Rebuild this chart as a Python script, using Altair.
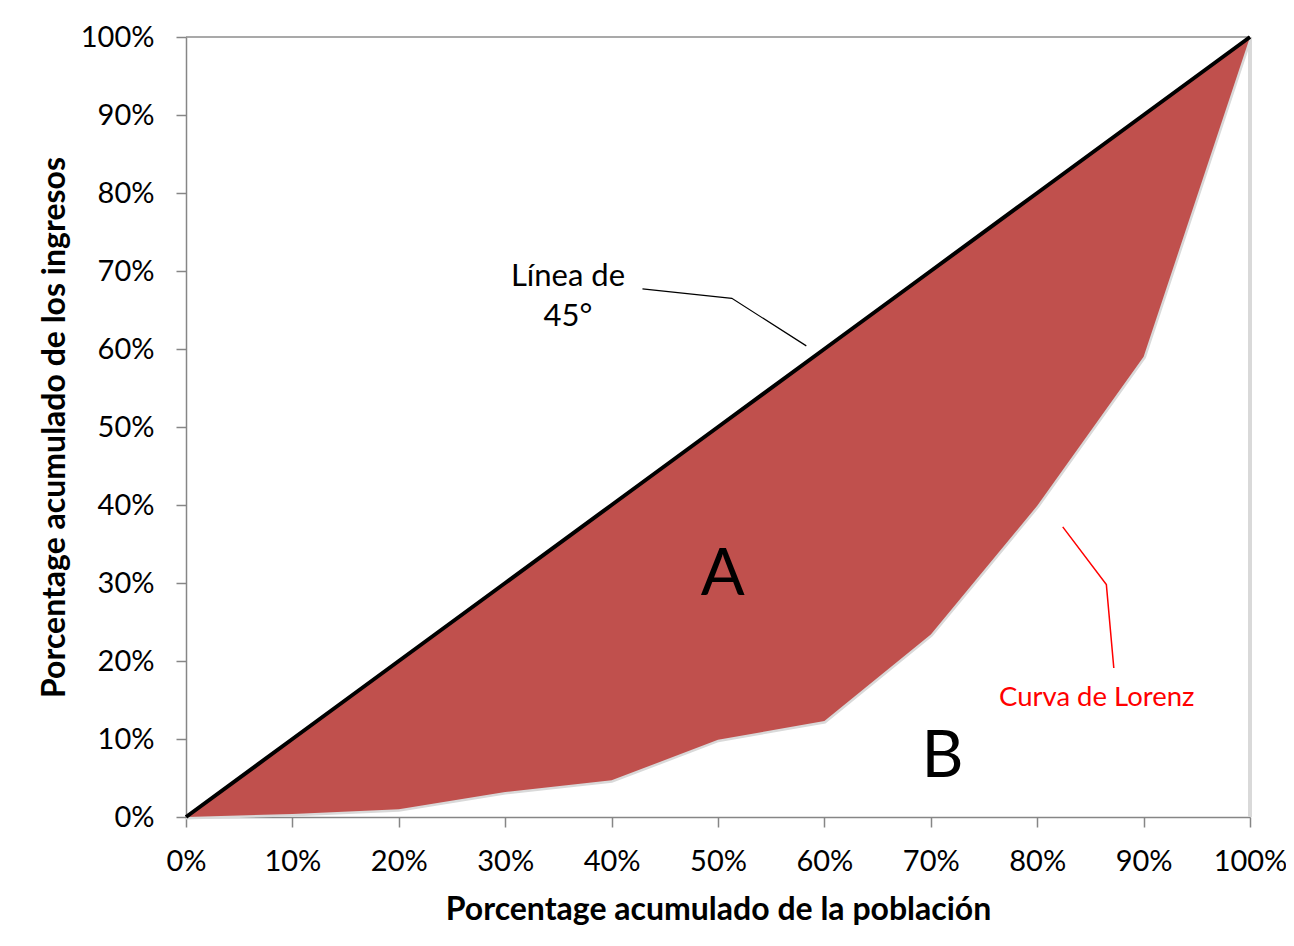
import altair as alt
import pandas as pd

# ---- data (percent values) ----
poblacion = [0, 10, 20, 30, 40, 50, 60, 70, 80, 90, 100]
ingresos_lorenz = [0, 0.4, 1.0, 3.2, 4.7, 9.9, 12.3, 23.4, 39.9, 59.0, 100]
linea_45 = [0, 10, 20, 30, 40, 50, 60, 70, 80, 90, 100]
ticks = [0, 10, 20, 30, 40, 50, 60, 70, 80, 90, 100]

area_labels = ["A", "B"]
area_label_x = [50.45, 71.1]
area_label_y = [31.0, 7.7]

linea_text = ["Línea de", "45°"]
linea_text_x = [35.9, 35.9]
linea_text_y = [69.2, 64.1]

lorenz_text = ["Curva de Lorenz"]
lorenz_text_x = [85.6]
lorenz_text_y = [15.3]

leader_black_x = [42.9, 51.3, 58.3]
leader_black_y = [67.7, 66.5, 60.4]
leader_red_x = [82.4, 86.5, 87.2]
leader_red_y = [37.2, 29.8, 19.1]

# ---- tables ----
df = pd.DataFrame({
    "x": [v / 100 for v in poblacion],
    "lorenz": [v / 100 for v in ingresos_lorenz],
    "diag": [v / 100 for v in linea_45],
})
df_ab = pd.DataFrame({"t": area_labels, "x": [v / 100 for v in area_label_x], "y": [v / 100 for v in area_label_y]})
df_lin = pd.DataFrame({"t": linea_text, "x": [v / 100 for v in linea_text_x], "y": [v / 100 for v in linea_text_y]})
df_lor = pd.DataFrame({"t": lorenz_text, "x": [v / 100 for v in lorenz_text_x], "y": [v / 100 for v in lorenz_text_y]})
df_lb = pd.DataFrame({"x": [v / 100 for v in leader_black_x], "y": [v / 100 for v in leader_black_y], "o": [0, 1, 2]})
df_lr = pd.DataFrame({"x": [v / 100 for v in leader_red_x], "y": [v / 100 for v in leader_red_y], "o": [0, 1, 2]})
df_right = pd.DataFrame({"x": [1.0], "y": [0.0], "y2": [1.0]})
df_top = pd.DataFrame({"x": [0.0], "x2": [1.0], "y": [1.0]})

tickvals = [v / 100 for v in ticks]

xscale = alt.Scale(domain=[0, 1], nice=False)
yscale = alt.Scale(domain=[0, 1], nice=False)

xenc = alt.X("x:Q", scale=xscale,
             axis=alt.Axis(values=tickvals, format=".0%",
                           title="Porcentage acumulado de la población",
                           labelPadding=20, labelFlush=False, labelOverlap=False,
                           titleY=102, titleBaseline="alphabetic"))
yenc = alt.Y("lorenz:Q", scale=yscale,
             axis=alt.Axis(values=tickvals, format=".0%",
                           title="Porcentage acumulado de los ingresos",
                           labelPadding=22, labelFlush=False, labelOverlap=False,
                           titleX=-122, titleBaseline="alphabetic"))

base = alt.Chart(df)

lorenz_line = base.mark_line(color="#D9D9D9", strokeWidth=5).encode(x=xenc, y=yenc)

right_edge = alt.Chart(df_right).mark_rule(color="#D9D9D9", strokeWidth=4).encode(
    x=alt.X("x:Q", scale=xscale), y=alt.Y("y:Q", scale=yscale), y2="y2:Q")

fill = base.mark_area(color="#C0504D", opacity=1).encode(
    x=alt.X("x:Q", scale=xscale),
    y=alt.Y("diag:Q", scale=yscale),
    y2="lorenz:Q",
)

top_rule = alt.Chart(df_top).mark_rule(color="#8C8C8C", strokeWidth=1.5).encode(
    x=alt.X("x:Q", scale=xscale), x2="x2:Q", y=alt.Y("y:Q", scale=yscale))

diag = base.mark_line(color="black", strokeWidth=4).encode(
    x=alt.X("x:Q", scale=xscale), y=alt.Y("diag:Q", scale=yscale))

lead_b = alt.Chart(df_lb).mark_line(color="black", strokeWidth=1.2).encode(
    x=alt.X("x:Q", scale=xscale), y=alt.Y("y:Q", scale=yscale), order="o:Q")
lead_r = alt.Chart(df_lr).mark_line(color="#FF0000", strokeWidth=1.5).encode(
    x=alt.X("x:Q", scale=xscale), y=alt.Y("y:Q", scale=yscale), order="o:Q")

txt_ab = alt.Chart(df_ab).mark_text(font="Lato", fontSize=65, color="black",
                                    align="center", baseline="middle").encode(
    x=alt.X("x:Q", scale=xscale), y=alt.Y("y:Q", scale=yscale), text="t:N")
txt_lin = alt.Chart(df_lin).mark_text(font="Lato", fontSize=31, color="black",
                                      align="center", baseline="middle").encode(
    x=alt.X("x:Q", scale=xscale), y=alt.Y("y:Q", scale=yscale), text="t:N")
txt_lor = alt.Chart(df_lor).mark_text(font="Lato", fontSize=27.5, color="#FF0000",
                                      align="center", baseline="middle").encode(
    x=alt.X("x:Q", scale=xscale), y=alt.Y("y:Q", scale=yscale), text="t:N")

chart = alt.layer(
    lorenz_line, right_edge, fill, top_rule, diag, lead_b, lead_r, txt_ab, txt_lin, txt_lor
).properties(
    width=1064, height=780,
    autosize=alt.AutoSizeParams(type="none"),
    padding={"left": 178, "top": 29, "right": 36, "bottom": 110},
    background="white",
).configure_view(strokeWidth=0).configure_axis(
    grid=False,
    domainColor="#868686", domainWidth=1.5,
    tickColor="#868686", tickWidth=1.5, tickSize=10,
    labelFont="Lato", labelFontSize=29, labelColor="black",
    titleFont="Lato", titleFontSize=32, titleFontWeight="bold", titleColor="black",
)

chart.save("out.html", embed_options={"renderer": "svg", "actions": False})
